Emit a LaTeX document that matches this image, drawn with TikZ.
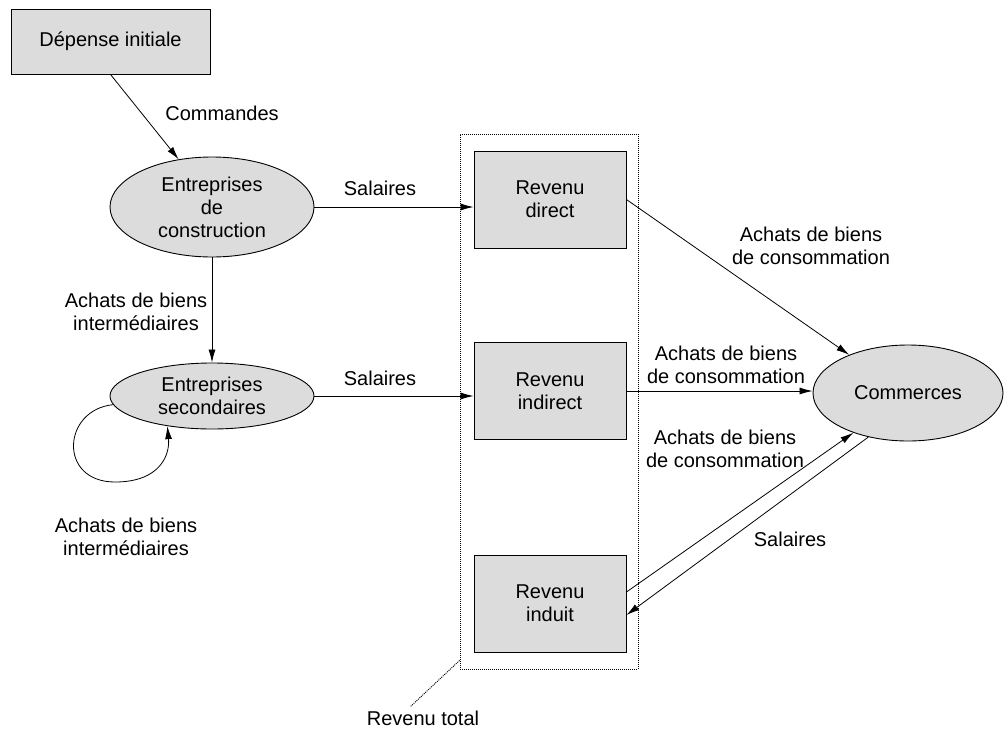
\documentclass[tikz,border=0pt]{standalone}
\usepackage{fontspec}
\setmainfont{Liberation Sans}
\usetikzlibrary{arrows.meta,shapes.geometric}
\definecolor{boxfill}{RGB}{220,220,220}
\tikzset{
  every node/.style={font=\fontsize{20}{23}\selectfont, align=center},
  revbox/.style={draw, fill=boxfill, line width=0.9pt, inner sep=0pt,
                 minimum width=152pt, minimum height=97pt},
  firm/.style={draw, ellipse, fill=boxfill, line width=0.9pt, inner sep=0pt},
  flow/.style={line width=0.8pt, -{Latex[length=13pt,width=7pt]}},
  lbl/.style={inner sep=0pt},
  dots/.style={line width=0.9pt, dash pattern=on 1pt off 1pt}
}
\begin{document}
\begin{tikzpicture}[x=1pt,y=-1pt]
\useasboundingbox (0,0) rectangle (1008,728);

% nodes
\node[revbox, minimum width=199pt, minimum height=65pt] (dep) at (110.5,41.5) {Dépense initiale};
\node[firm, minimum width=204pt, minimum height=100pt] (cons) at (212,207) {Entreprises\\de\\construction};
\node[firm, minimum width=204pt, minimum height=66pt] (sec) at (212,396) {Entreprises\\secondaires};
\node[dots, draw, minimum width=178pt, minimum height=535pt, inner sep=0pt] (grp) at (549,401.5) {};
\node[revbox] (dir) at (550,199.5) {Revenu\\direct};
\node[revbox] (ind) at (550,391) {Revenu\\indirect};
\node[revbox] (indu) at (550,603.5) {Revenu\\induit};
\node[firm, minimum width=190pt, minimum height=96pt] (comm) at (908,393) {Commerces};

% labels
\node[lbl] (lcmd) at (222,113) {Commandes};
\node[lbl] (lsal1) at (380,188) {Salaires};
\node[lbl] (linter1) at (136,312) {Achats de biens\\intermédiaires};
\node[lbl] (lsal2) at (380,378) {Salaires};
\node[lbl] (linter2) at (126,537) {Achats de biens\\intermédiaires};
\node[lbl] (lcons1) at (811,246) {Achats de biens\\de consommation};
\node[lbl] (lcons2) at (726,365) {Achats de biens\\de consommation};
\node[lbl] (lcons3) at (725,449) {Achats de biens\\de consommation};
\node[lbl] (lsal3) at (790,539) {Salaires};
\node[lbl] (ltot) at (423,718) {Revenu total};
\coordinate (totend) at (410,707);

% connectors
\draw[flow] (dep.south) -- (cons.125);
\draw[flow] (cons.south) -- (sec.north);
\draw[flow] (sec.185) .. controls (62,410) and (58,482) .. (115,482)
            .. controls (160,482) and (170,455) .. (sec.214);
\draw[flow] (cons.east) -- (cons.east -| dir.west);
\draw[flow] (sec.east) -- (sec.east -| ind.west);
\draw[flow] (dir.east) -- (comm.147);
\draw[flow] (ind.east) -- (ind.east -| comm.west);
\draw[flow] ([yshift=11.5pt]indu.east) -- (comm.216);
\draw[flow] (comm.228) -- ([yshift=-11.5pt]indu.east);
\draw[dots] ([yshift=9pt]grp.south west) -- (totend);
\end{tikzpicture}
\end{document}
